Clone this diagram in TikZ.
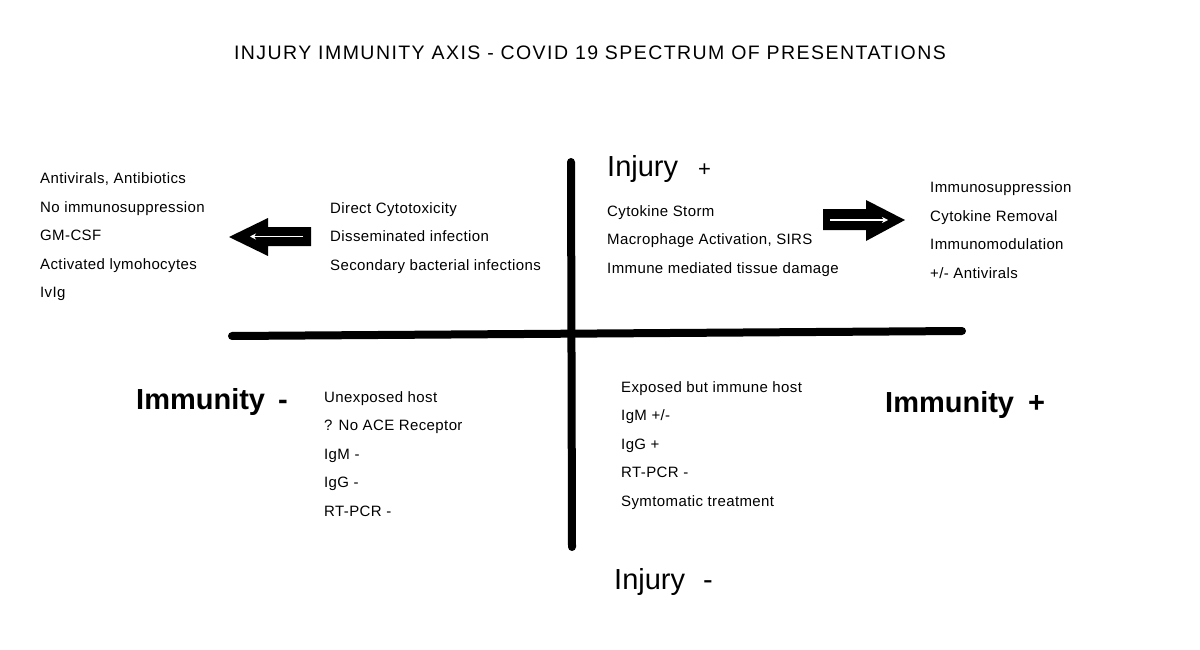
\documentclass[tikz,border=0pt]{standalone}
\usepackage{fontspec}
\setmainfont{Liberation Sans}
\newfontfamily\itemfont[LetterSpace=2.6]{Liberation Sans}
\newfontfamily\titlefont[LetterSpace=7.4]{Liberation Sans}
\usetikzlibrary{positioning,arrows.meta}

\begin{document}
\begin{tikzpicture}[
    x=1pt, y=-1pt,
    item/.style={anchor=north west, align=left, inner sep=0pt, font=\itemfont\fontsize{15}{28.5}\selectfont},
    axislabel/.style={anchor=base west, inner sep=0pt, font=\fontsize{29}{34}\selectfont},
    boldlabel/.style={axislabel, font=\fontsize{29}{34}\selectfont\bfseries},
    axisline/.style={line width=8pt, line cap=round},
    blockarrow/.style={fill=black},
    innerline/.style={draw=white, line width=1.1pt, -{Stealth[length=6pt,width=6pt]}}
]
\useasboundingbox (0,0) rectangle (1200,650);

\node[font=\titlefont\fontsize{19.5}{22}\selectfont] (title) at (590,53) {INJURY IMMUNITY AXIS - COVID 19 SPECTRUM OF PRESENTATIONS};

% axes
\coordinate (vtop) at (571,162);
\coordinate (vbot) at (572,547);
\coordinate (hleft) at (232,336);
\coordinate (hright) at (962,331);
\draw[axisline] (vtop) -- (vbot);
\draw[axisline] (hleft) -- (hright);

% axis labels
\node[axislabel] (injplus) at (607,176) {Injury\hspace{20pt}{\fontsize{22}{24}\selectfont+}};
\node[axislabel] (injminus) at (614,589) {Injury\hspace{18pt}-};
\node[boldlabel] (immminus) at (136,409) {Immunity\hspace{13pt}-};
\node[boldlabel] (immplus) at (885,412) {Immunity\hspace{14pt}+};

% block arrows
\fill[blockarrow] (311,227) -- (268,227) -- (268,218) -- (229,237) -- (268,256) -- (268,246) -- (311,246) -- cycle;
\draw[innerline] (303,236.5) -- (250,236.5);
\fill[blockarrow] (823,209) -- (866,209) -- (866,200) -- (905,220) -- (866,241) -- (866,230) -- (823,230) -- cycle;
\draw[innerline] (830,220) -- (888,220);

% quadrant texts
\node[item] (treatleft) at (40,172.5) {Antivirals, Antibiotics\\No immunosuppression\\GM-CSF\\Activated lymohocytes\\IvIg};
\node[item] (virus) at (330,202) {Direct Cytotoxicity\\Disseminated infection\\Secondary bacterial infections};
\node[item] (storm) at (607,205) {Cytokine Storm\\Macrophage Activation, SIRS\\Immune mediated tissue damage};
\node[item] (treatright) at (930,181.5) {Immunosuppression\\Cytokine Removal\\Immunomodulation\\+/- Antivirals};
\node[item] (unexposed) at (324,391) {Unexposed host\\? No ACE Receptor\\IgM -\\IgG -\\RT-PCR -};
\node[item] (exposed) at (621,381) {Exposed but immune host\\IgM +/-\\IgG +\\RT-PCR -\\Symtomatic treatment};

\end{tikzpicture}
\end{document}
